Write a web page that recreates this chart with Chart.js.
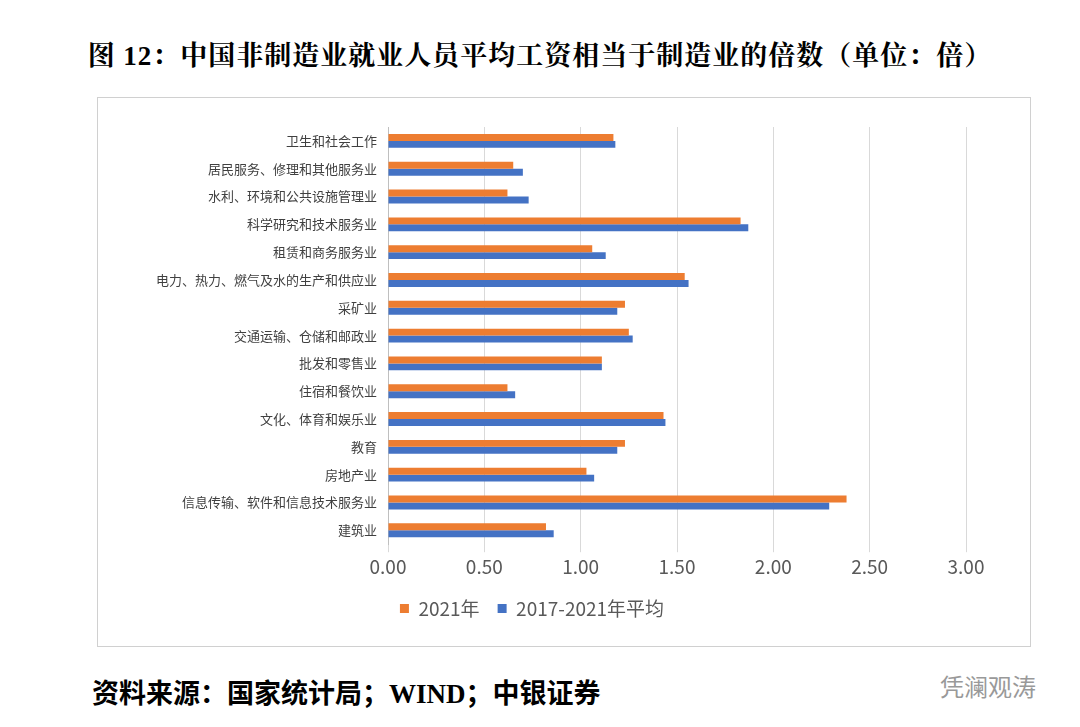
<!DOCTYPE html>
<html><head><meta charset="utf-8">
<script src="https://cdn.jsdelivr.net/npm/chart.js@4/dist/chart.umd.min.js"></script>
<style>
body{margin:0;width:1080px;height:727px;background:#fff;position:relative;font-family:"Noto Serif CJK SC","Noto Sans CJK SC",serif;}
#title{position:absolute;top:34px;left:0;width:1080px;text-align:center;font-size:27px;font-weight:bold;font-family:"Liberation Serif","Noto Serif CJK SC","Noto Sans CJK SC",serif;letter-spacing:1px;}
#box{position:absolute;left:97px;top:97px;width:932px;height:548px;border:1px solid #d0d0d0;}
#src{position:absolute;left:92px;top:672px;font-size:27px;font-weight:bold;font-family:"Liberation Serif","Noto Sans CJK SC",serif;}
#wm{position:absolute;left:940px;top:668px;font-size:24px;color:#999;font-family:"Noto Sans CJK SC";}
</style></head><body>
<div id="title">图 12：中国非制造业就业人员平均工资相当于制造业的倍数（单位：倍）</div>
<div id="box"><canvas id="c" width="932" height="548"></canvas></div>
<div id="src">资料来源：国家统计局；WIND；中银证券</div>
<div id="wm">凭澜观涛</div>
<script>
const categories=["卫生和社会工作","居民服务、修理和其他服务业","水利、环境和公共设施管理业","科学研究和技术服务业","租赁和商务服务业","电力、热力、燃气及水的生产和供应业","采矿业","交通运输、仓储和邮政业","批发和零售业","住宿和餐饮业","文化、体育和娱乐业","教育","房地产业","信息传输、软件和信息技术服务业","建筑业"];
const v2021=[1.17,0.65,0.62,1.83,1.06,1.54,1.23,1.25,1.11,0.62,1.43,1.23,1.03,2.38,0.82];
const vAvg=[1.18,0.70,0.73,1.87,1.13,1.56,1.19,1.27,1.11,0.66,1.44,1.19,1.07,2.29,0.86];
new Chart(document.getElementById('c'),{type:'bar',
data:{labels:categories,datasets:[
{label:'2021年',data:v2021,backgroundColor:'#ED7D31',barPercentage:1,categoryPercentage:0.5},
{label:'2017-2021年平均',data:vAvg,backgroundColor:'#4472C4',barPercentage:1,categoryPercentage:0.5}]},
options:{indexAxis:'y',responsive:false,animation:false,
layout:{padding:{left:0,right:64,top:29,bottom:18}},
plugins:{legend:{position:'bottom',labels:{boxWidth:9,boxHeight:9,font:{size:19,family:'Noto Sans CJK SC'},color:'#595959',padding:18}},tooltip:{enabled:false}},
scales:{x:{min:0,max:3,ticks:{stepSize:0.5,callback:v=>v.toFixed(2),font:{size:19,family:'Noto Sans CJK SC'},color:'#595959'},grid:{color:'#d9d9d9'},border:{display:false}},
y:{afterFit:s=>{s.width=290;},ticks:{font:{size:13,family:'Noto Sans CJK SC'},color:'#404040',autoSkip:false},grid:{display:false},border:{color:'#bfbfbf'}}}}});
</script></body></html>
